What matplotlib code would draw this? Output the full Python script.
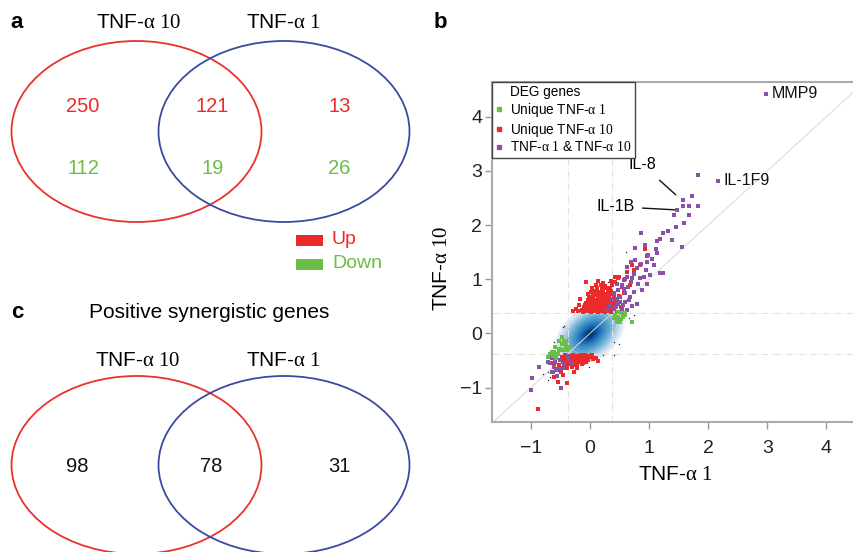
import matplotlib
matplotlib.use("Agg")
import matplotlib.pyplot as plt
import numpy as np
from matplotlib.patches import Ellipse, Rectangle
from matplotlib.lines import Line2D

plt.rcParams['font.family'] = ['Liberation Sans', 'DejaVu Sans']
plt.rcParams['mathtext.fontset'] = 'custom'
plt.rcParams['mathtext.rm'] = 'Liberation Serif'
plt.rcParams['mathtext.it'] = 'Liberation Serif:italic'
plt.rcParams['mathtext.bf'] = 'Liberation Serif:bold'

# ---- data ----
lab10 = r"TNF-$\mathrm{α\ 10}$"
lab1 = r"TNF-$\mathrm{α\ 1}$"

up_counts = [250, 121, 13]        # TNF10 only, both, TNF1 only
down_counts = [112, 19, 26]
synergy_counts = [98, 78, 31]

# scatter: log fold change (x = TNF-a 1, y = TNF-a 10)
green_pts = [(-0.47, -0.06), (-0.44, -0.14), (-0.50, -0.28), (-0.47, -0.31), (-0.59, -0.25),
             (-0.61, -0.34), (-0.67, -0.37), (-0.70, -0.43), (-0.54, -0.37), (-0.39, -0.31),
             (-0.36, -0.25), (-0.52, -0.14), (-0.41, -0.14), (-0.53, -0.28), (-0.45, -0.31),
             (-0.64, -0.34), (-0.56, -0.37), (-0.41, -0.25), (-0.57, -0.46), (-0.48, -0.20),
             (-0.62, -0.42), (-0.42, -0.18), (-0.53, -0.31),
             (0.43, 0.34), (0.48, 0.30), (0.60, 0.34), (0.46, 0.21), (0.71, 0.21), (0.55, 0.37),
             (0.47, 0.40), (0.43, 0.31), (0.51, 0.21), (0.60, 0.37), (0.52, 0.27), (0.40, 0.28),
             (0.56, 0.30), (0.45, 0.25)]

red_pts = [
    # upper block
    (-0.12, 0.40), (-0.05, 0.41), (0.02, 0.40), (0.08, 0.41), (0.14, 0.40), (0.19, 0.41), (0.25, 0.40), (0.31, 0.41), (0.36, 0.40),
    (-0.14, 0.44), (-0.08, 0.45), (-0.01, 0.43), (0.05, 0.45), (0.11, 0.44), (0.17, 0.43), (0.22, 0.45), (0.28, 0.44), (0.33, 0.43), (0.39, 0.45),
    (-0.10, 0.48), (-0.04, 0.49), (0.03, 0.47), (0.09, 0.49), (0.15, 0.48), (0.20, 0.47), (0.26, 0.49), (0.31, 0.48), (0.37, 0.47), (0.43, 0.49),
    (-0.09, 0.53), (-0.02, 0.52), (0.06, 0.54), (0.12, 0.53), (0.18, 0.52), (0.24, 0.54), (0.29, 0.53), (0.35, 0.52), (0.41, 0.54),
    (-0.06, 0.57), (0.01, 0.58), (0.07, 0.56), (0.13, 0.58), (0.20, 0.57), (0.27, 0.56), (0.33, 0.58), (0.39, 0.57), (0.45, 0.59),
    (-0.04, 0.62), (0.04, 0.63), (0.10, 0.61), (0.16, 0.63), (0.22, 0.62), (0.29, 0.61), (0.36, 0.63), (0.42, 0.62),
    (-0.01, 0.67), (0.06, 0.68), (0.13, 0.66), (0.19, 0.68), (0.26, 0.67), (0.33, 0.66), (0.40, 0.68),
    (-0.03, 0.72), (0.05, 0.73), (0.12, 0.71), (0.18, 0.73), (0.24, 0.72), (0.31, 0.71), (0.38, 0.73),
    (0.02, 0.77), (0.09, 0.78), (0.16, 0.76), (0.22, 0.78), (0.30, 0.77), (0.36, 0.79),
    (0.04, 0.83), (0.12, 0.84), (0.20, 0.82), (0.27, 0.84), (0.34, 0.83),
    (0.10, 0.89), (0.18, 0.90), (0.26, 0.88), (0.38, 0.90),
    (-0.07, 0.95), (0.14, 0.96), (0.22, 0.94), (0.43, 0.95), (0.48, 1.02),
    (-0.23, 0.46), (-0.28, 0.42), (-0.19, 0.52), (-0.17, 0.63), (-0.20, 0.41),
    (0.60, 1.00), (0.63, 1.14), (0.71, 1.26), (0.74, 1.17), (0.85, 1.26), (0.93, 1.55),
    (0.96, 1.43), (0.43, 1.05), (0.50, 1.05), (0.55, 0.85), (0.58, 0.75), (0.50, 0.70),
    (0.47, 0.55), (0.52, 0.48), (0.35, 0.97), (0.68, 0.90),
    # lower block
    (-0.42, -0.40), (-0.35, -0.41), (-0.28, -0.39), (-0.21, -0.41), (-0.15, -0.40), (-0.08, -0.39), (-0.02, -0.41), (0.04, -0.40),
    (-0.47, -0.44), (-0.39, -0.45), (-0.32, -0.43), (-0.25, -0.45), (-0.18, -0.44), (-0.12, -0.43), (-0.05, -0.45), (0.02, -0.44), (0.08, -0.45),
    (-0.44, -0.48), (-0.37, -0.49), (-0.30, -0.47), (-0.23, -0.49), (-0.16, -0.48), (-0.10, -0.47), (-0.03, -0.49), (0.06, -0.48),
    (-0.46, -0.53), (-0.40, -0.52), (-0.33, -0.54), (-0.26, -0.53), (-0.19, -0.52), (-0.12, -0.54), (-0.06, -0.53),
    (-0.42, -0.58), (-0.35, -0.57), (-0.28, -0.59), (-0.21, -0.58), (-0.14, -0.57),
    (-0.38, -0.63), (-0.30, -0.62), (-0.22, -0.64),
    (-0.39, -0.91), (-0.54, -0.89), (-0.61, -0.80), (-0.49, -0.72), (-0.57, -0.66), (-0.27, -0.71),
    (-0.88, -1.40), (0.10, -0.46), (0.14, -0.50), (-0.52, -0.58), (-0.60, -0.55), (-0.45, -0.77),
]

purple_pts = [
    (2.98, 4.42), (2.17, 2.82), (1.82, 2.93), (1.72, 2.54), (1.57, 2.46), (1.58, 2.36), (1.67, 2.35),
    (1.82, 2.35), (1.48, 2.27), (1.42, 2.19), (1.67, 2.19), (1.59, 2.03), (1.45, 1.96),
    (1.23, 1.85), (1.32, 1.89), (1.14, 1.71), (1.19, 1.74), (1.39, 1.72), (1.55, 1.59), (0.93, 1.63),
    (0.77, 1.57), (0.86, 1.85), (1.11, 1.55), (0.98, 1.45), (0.70, 1.32), (0.77, 1.36), (0.87, 1.29),
    (0.97, 1.31), (1.05, 1.37), (1.13, 1.48), (0.63, 1.23), (0.79, 1.20), (0.95, 1.17), (1.09, 1.26),
    (1.19, 1.11), (1.24, 1.11), (1.02, 1.08), (0.91, 1.05), (0.71, 1.02), (0.57, 0.99), (0.82, 0.92),
    (0.96, 0.92), (0.65, 0.86), (0.88, 0.81), (0.74, 0.77), (0.60, 0.74), (0.51, 0.68), (0.68, 0.68),
    (0.79, 0.55), (0.60, 0.58), (0.48, 0.55), (0.54, 0.46), (0.63, 0.43), (0.46, 0.40), (0.46, 0.92),
    (0.54, 0.89), (0.48, 0.80), (0.40, 0.74), (0.46, 0.64), (0.34, 0.52), (0.40, 0.46), (0.29, 0.43),
    (0.51, 0.58), (0.70, 0.95), (0.75, 1.10), (0.58, 0.82), (0.66, 0.62), (0.72, 0.50), (0.56, 0.52),
    (0.62, 1.05), (0.85, 1.02), (0.38, 0.62), (0.44, 0.50),
    (-0.98, -0.83), (-1.00, -1.05), (-0.86, -0.62), (-0.70, -0.52), (-0.59, -0.52), (-0.61, -0.62),
    (-0.56, -0.68), (-0.63, -0.72), (-0.52, -0.65), (-0.45, -0.63), (-0.49, -1.00), (-0.43, -0.57),
    (-0.67, -0.55), (-0.50, -0.49), (-0.38, -0.42), (-0.36, -0.49), (-0.55, -0.78), (-0.64, -0.45),
    (-0.30, -0.55), (-0.64, -0.71),
]

other_pts = [(0.41, -0.15), (0.50, -0.20), (0.40, -0.39), (0.22, -0.40), (-0.43, 0.13), (-0.61, -0.15),
             (-0.73, -0.43), (-0.71, -0.86), (0.74, 0.34), (0.82, 0.55), (-0.06, 0.55), (0.61, 1.51),
             (-0.45, 0.12), (-0.70, -0.71), (-0.67, -0.80), (0.66, 0.28), (-0.02, -0.62), (0.30, 0.95),
             (-0.60, -0.60), (-0.80, -0.75), (0.52, 0.65)]

# density cloud of all genes, read as nested contours (outer -> inner)
cloud_major = [1.40, 1.28, 1.16, 1.04, 0.92, 0.80, 0.68, 0.56, 0.45, 0.34, 0.24, 0.15]
cloud_minor = [0.92, 0.84, 0.76, 0.68, 0.60, 0.52, 0.44, 0.36, 0.28, 0.21, 0.15, 0.09]
cloud_shade = [0.10, 0.20, 0.30, 0.40, 0.48, 0.55, 0.62, 0.69, 0.76, 0.84, 0.92, 1.00]

labelled = {"MMP9": (2.98, 4.42), "IL-1F9": (2.17, 2.82)}
threshold = 0.378

RED = '#ec2a2a'
GREEN = '#6cbd45'
PURPLE = '#8a52a6'
VRED = '#e8322d'
VBLUE = '#3a4aa2'

fig = plt.figure(figsize=(8.54, 5.52), dpi=100)

# ---- panels a and c on a pixel-space overlay ----
ov = fig.add_axes([0, 0, 1, 1])
ov.set_xlim(0, 854)
ov.set_ylim(552, 0)
ov.axis('off')

for cy in (131.5, 465):
    ov.add_patch(Ellipse((136.5, cy), 250, 181 if cy < 300 else 178, fill=False, ec=VRED, lw=1.3))
    ov.add_patch(Ellipse((284, cy), 251, 181 if cy < 300 else 178, fill=False, ec=VBLUE, lw=1.3))

ov.text(17, 22, "a", fontsize=16, fontweight='bold', ha='center', va='center')
ov.text(139, 22, lab10, fontsize=15, ha='center', va='center')
ov.text(283, 22, lab1, fontsize=15, ha='center', va='center')
for xc, u, d in zip([83, 212.5, 339.5], up_counts, down_counts):
    ov.text(xc, 107, str(u), color=RED, fontsize=14.5, ha='center', va='center')
    ov.text(xc, 168, str(d), color=GREEN, fontsize=14.5, ha='center', va='center')

ov.add_patch(Rectangle((296, 235), 27, 11, color=RED, lw=0))
ov.add_patch(Rectangle((296, 259), 27, 11, color=GREEN, lw=0))
ov.text(332, 240, "Up", color=RED, fontsize=14, va='center')
ov.text(332, 264, "Down", color=GREEN, fontsize=14, va='center')

ov.text(17, 313, "c", fontsize=16, fontweight='bold', ha='center', va='center')
ov.text(209, 313, "Positive synergistic genes", fontsize=15, ha='center', va='center')
ov.text(138, 360, lab10, fontsize=15, ha='center', va='center')
ov.text(283, 360, lab1, fontsize=15, ha='center', va='center')
for xc, n in zip([77.5, 211, 339], synergy_counts):
    ov.text(xc, 467, str(n), color='#111', fontsize=14.5, ha='center', va='center')

ov.text(440, 22, "b", fontsize=16, fontweight='bold', ha='center', va='center')

# ---- panel b scatter ----
ax = fig.add_axes([492 / 854, 1 - 422 / 552, (854 - 492) / 854, (422 - 82) / 552])
ax.set_xlim(-1.655, 4.465)
ax.set_ylim(-1.634, 4.64)

for w, h, s in zip(cloud_major, cloud_minor, cloud_shade):
    ax.add_patch(Ellipse((0.0, -0.01), w, h, angle=45, color=plt.cm.Blues(s), lw=0, zorder=1))

ax.axline((0, 0), slope=1, color='#d8d8d8', lw=0.7, zorder=2)
for t in (-threshold, threshold):
    ax.axvline(t, color='#e2e2e2', lw=0.8, ls=(0, (6, 2, 1, 2)), zorder=1.5)
    ax.axhline(t, color='#e2e2e2', lw=0.8, ls=(0, (6, 2, 1, 2)), zorder=1.5)

o = np.array(other_pts)
ax.plot(o[:, 0], o[:, 1], 's', color='#222', ms=0.9, mew=0, zorder=3)
r = np.array(red_pts)
ax.plot(r[:, 0], r[:, 1], 's', color=RED, ms=2.4, mew=0, zorder=4)
p = np.array(purple_pts)
ax.plot(p[:, 0], p[:, 1], 's', color=PURPLE, ms=2.4, mew=0, zorder=5)
g = np.array(green_pts)
ax.plot(g[:, 0], g[:, 1], 's', color=GREEN, ms=2.4, mew=0, zorder=5)

for name, (px, py) in labelled.items():
    ax.annotate(name, (px, py), xytext=(4, 0), textcoords='offset points',
                fontsize=11.5, va='center', color='#111')
ax.annotate("IL-8", (1.45, 2.56), xytext=(0.88, 3.12), fontsize=11.5, ha='center', va='center',
            arrowprops=dict(arrowstyle='-', color='#111', lw=1, shrinkA=6, shrinkB=0))
ax.annotate("IL-1B", (1.46, 2.28), xytext=(0.75, 2.34), fontsize=11.5, ha='right', va='center',
            arrowprops=dict(arrowstyle='-', color='#111', lw=1, shrinkA=4, shrinkB=0))

ax.set_xticks([-1, 0, 1, 2, 3, 4])
ax.set_yticks([-1, 0, 1, 2, 3, 4])
ax.tick_params(direction='out', length=5, width=1, color='#999999', labelsize=14, labelcolor='#222')
ax.tick_params(axis='x', pad=8)
ax.tick_params(axis='y', pad=2)
for side in ('left', 'bottom', 'top'):
    ax.spines[side].set_color('#aaaaaa')
    ax.spines[side].set_linewidth(1.5)
ax.spines['right'].set_visible(False)

handles = [Line2D([], [], ls='', marker=None),
           Line2D([], [], ls='', marker='s', color=GREEN, ms=2.6),
           Line2D([], [], ls='', marker='s', color=RED, ms=2.6),
           Line2D([], [], ls='', marker='s', color=PURPLE, ms=2.6)]
labels = ["DEG genes", "Unique " + lab1, "Unique " + lab10, lab1 + " & " + lab10]
leg = ax.legend(handles, labels, loc='upper left', bbox_to_anchor=(0, 1), borderaxespad=0,
                fancybox=False, framealpha=1, edgecolor='#444444', fontsize=9.8,
                handlelength=0.6, handletextpad=0.5, labelspacing=0.12, borderpad=0.25)
leg.get_frame().set_linewidth(1.0)
leg.set_zorder(10)

fig.text(675 / 854, 1 - 474 / 552, lab1, fontsize=15, ha='center', va='center')
fig.text(441.7 / 854, 1 - 268 / 552, lab10, fontsize=15, ha='center', va='center', rotation=90)

plt.savefig("out.png", dpi=100)
